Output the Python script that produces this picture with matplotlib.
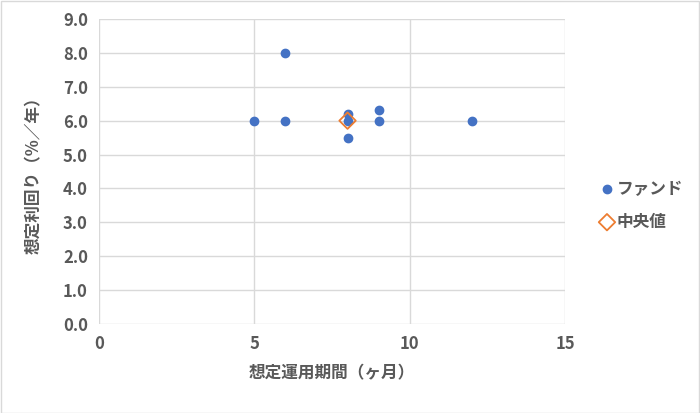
import matplotlib
matplotlib.use("Agg")
import matplotlib.pyplot as plt

plt.rcParams['font.family'] = ['Noto Sans CJK JP', 'DejaVu Sans']

# data
fund_x = [5, 6, 6, 8, 8, 8, 9, 9, 12]
fund_y = [6.0, 8.0, 6.0, 6.2, 6.0, 5.5, 6.3, 6.0, 6.0]
median_x = [8]
median_y = [6.0]

txt = '#595959'

fig = plt.figure(figsize=(7.0, 4.13), dpi=100)
ax = fig.add_axes([99/700, 1 - 324/413, (565-99)/700, (324-19)/413])

ax.scatter(fund_x, fund_y, s=36, color='#4472C4', label='ファンド', zorder=3)
ax.scatter(median_x, median_y, s=70, marker='D', facecolor='none',
           edgecolor='#ED7D31', linewidth=1.3, label='中央値', zorder=4)

ax.set_xlim(0, 15)
ax.set_ylim(0, 9)
ax.set_xticks([0, 5, 10, 15])
ax.set_yticks([i for i in range(10)])
ax.set_yticklabels([f'{i:.1f}' for i in range(10)])
ax.grid(True, color='#D9D9D9', linewidth=1)
ax.set_axisbelow(True)
for s in ax.spines.values():
    s.set_visible(False)
ax.tick_params(length=0, colors=txt, labelsize=12, pad=8)
for lab in ax.get_xticklabels() + ax.get_yticklabels():
    lab.set_fontweight('bold')

ax.set_xlabel('想定運用期間（ヶ月）', color=txt, fontsize=12, fontweight='bold', labelpad=8)
ax.set_ylabel('想定利回り（%／年）', color=txt, fontsize=12, fontweight='bold', labelpad=14)

leg = ax.legend(loc='center left', bbox_to_anchor=(1.04, 0.39), frameon=False,
                prop={'size': 12, 'weight': 'bold'}, handletextpad=0.1,
                labelspacing=0.9, handlelength=1.0)
for t in leg.get_texts():
    t.set_color(txt)

fig.patches.append(plt.Rectangle((0.001, 0.001), 0.997, 0.997, transform=fig.transFigure,
                                 fill=False, edgecolor='#D9D9D9', linewidth=1))

fig.savefig('out.png', dpi=100)
